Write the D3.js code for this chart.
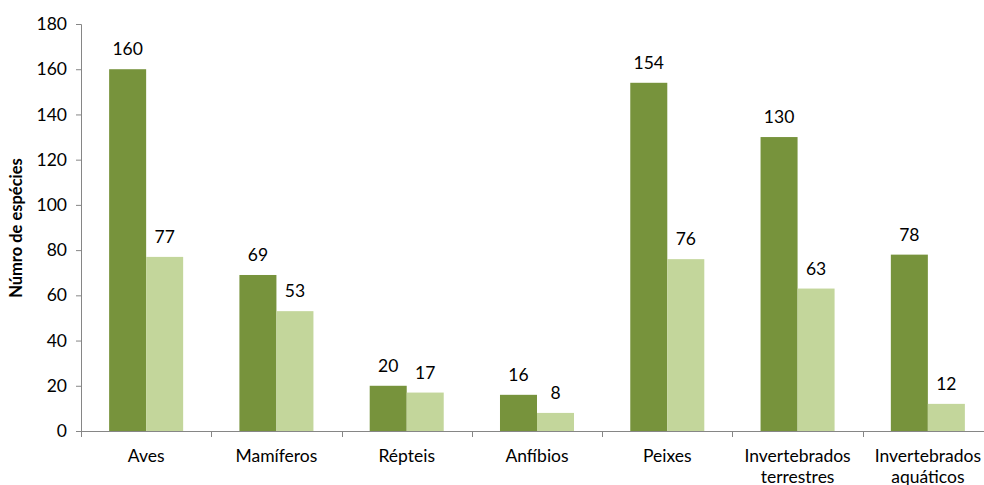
<!DOCTYPE html>
<html><head><meta charset="utf-8">
<script src="https://cdn.jsdelivr.net/npm/d3@7"></script>
<style>body{margin:0;background:#fff;overflow:hidden}svg{display:block;font-family:Lato,"Open Sans",sans-serif}</style>
</head><body><svg id="c" width="984" height="485"></svg>
<script>
const categories = ["Aves","Mamíferos","Répteis","Anfíbios","Peixes","Invertebrados terrestres","Invertebrados aquáticos"];
const series1 = [160,69,20,16,154,130,78];
const series2 = [77,53,17,8,76,63,12];
const yTicks = [0,20,40,60,80,100,120,140,160,180];
const yTitle = "Númro de espécies";

const svg = d3.select("#c");
const x0 = 81, x1 = 993, yTop = 24, yBot = 431;
const FS = 17.5;
const x = d3.scaleBand().domain(categories).range([x0,x1]).paddingInner(0).paddingOuter(0);
const y = d3.scaleLinear().domain([0,180]).range([yBot,yTop]);
const inner = d3.scaleBand().domain([0,1]).range([0,x.bandwidth()]).paddingInner(0).paddingOuter(0.76);

const data = categories.map((c,i)=>({c, v:[series1[i],series2[i]]}));
const colors = ["#77933C","#C3D69B"];

const g = svg.append("g");
data.forEach(d=>{
  d.v.forEach((v,j)=>{
    const bx = x(d.c)+inner(j);
    g.append("rect").attr("x",bx).attr("y",y(v)).attr("width",inner.bandwidth()).attr("height",yBot-y(v)).attr("fill",colors[j]);
    g.append("text").attr("x",bx+inner.bandwidth()/2).attr("y",y(v)-14).attr("text-anchor","middle")
      .attr("font-size",FS).attr("fill","#000").text(v);
  });
});

// y axis
const ya = svg.append("g").attr("transform",`translate(${x0},0)`).call(d3.axisLeft(y).tickValues(yTicks).tickSize(5).tickPadding(9));
ya.select(".domain").attr("stroke","#868686");
ya.selectAll(".tick line").attr("stroke","#868686");
ya.selectAll(".tick text").attr("font-size",FS).attr("fill","#000").attr("font-family","Lato,'Open Sans',sans-serif");

// x axis
svg.append("line").attr("x1",x0).attr("x2",x1).attr("y1",yBot+0.5).attr("y2",yBot+0.5).attr("stroke","#868686");
categories.forEach(c=>{
  const tx = Math.round(x(c))+0.5;
  svg.append("line").attr("x1",tx).attr("x2",tx).attr("y1",yBot).attr("y2",yBot+6).attr("stroke","#868686");
  const words = c.split(" ");
  const t = svg.append("text").attr("text-anchor","middle").attr("font-size",FS).attr("fill","#000");
  words.forEach((w,i)=>{
    t.append("tspan").attr("x",x(c)+x.bandwidth()/2).attr("y",462+i*21).text(w);
  });
});

svg.append("text").attr("transform","translate(22,228) rotate(-90)").attr("text-anchor","middle")
  .attr("font-size",16.5).attr("font-weight","bold").attr("fill","#000").text(yTitle);
</script></body></html>
